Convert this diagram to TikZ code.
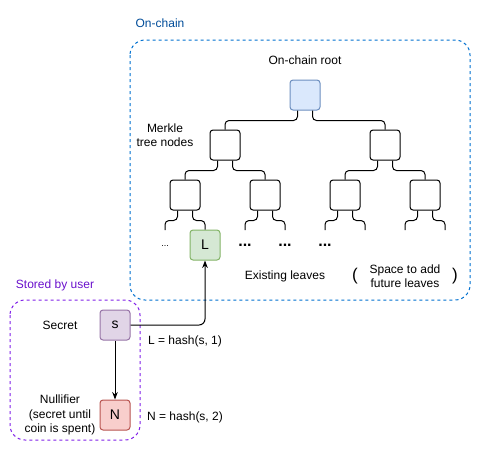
\documentclass[tikz,border=0pt]{standalone}
\usepackage{fontspec}
\setmainfont{Liberation Sans}
\usetikzlibrary{arrows.meta}

\definecolor{rootfill}{HTML}{DAE8FC}
\definecolor{rootline}{HTML}{6C8EBF}
\definecolor{leaffill}{HTML}{D5E8D4}
\definecolor{leafline}{HTML}{82B366}
\definecolor{secretfill}{HTML}{E1D5E7}
\definecolor{secretline}{HTML}{9673A6}
\definecolor{nullfill}{HTML}{F8CECC}
\definecolor{nullline}{HTML}{B85450}
\definecolor{chainline}{HTML}{0070D0}
\definecolor{chaintext}{HTML}{004C99}
\definecolor{userline}{HTML}{8020E8}
\definecolor{usertext}{HTML}{6A10CC}

\begin{document}
\begin{tikzpicture}[x=1pt, y=-1pt, >=Stealth,
    font=\fontsize{12}{14.5}\selectfont,
    box/.style={draw, line width=1pt, rounded corners=3pt, minimum size=30pt, inner sep=0pt, font=\fontsize{14}{16}\selectfont},
    treeedge/.style={line width=1pt, rounded corners=4pt},
    region/.style={line width=1pt, rounded corners=15pt, dash pattern=on 3pt off 3pt}]

        \useasboundingbox (0,0) rectangle (481,451);

        % Draw the two regions
        \draw[region, chainline] (130,40) rectangle (470,300);
        \node[text=chaintext] (chainlabel) at (160,23) {On-chain};
        \draw[region, userline] (10,300) rectangle (140,440);
        \node[text=usertext] (userlabel) at (55,285) {Stored by user};

        % Tree nodes
        \node[box, fill=rootfill, draw=rootline] (root) at (305,95) {};
        \node[box] (na) at (225,145) {};
        \node[box] (nb) at (385,145) {};
        \node[box] (naa) at (185,195) {};
        \node[box] (nab) at (265,195) {};
        \node[box] (nba) at (345,195) {};
        \node[box] (nbb) at (425,195) {};
        \node[box, fill=leaffill, draw=leafline] (leaf) at (205,245) {L};

        % Free ends of the leaf edges
        \coordinate (la) at (165,230);
        \coordinate (lc) at (245,230);
        \coordinate (ld) at (285,230);
        \coordinate (le) at (325,230);
        \coordinate (lf) at (365,230);
        \coordinate (lg) at (405,230);
        \coordinate (lh) at (445,230);

        % Tree edges
        \draw[treeedge] ([xshift=-7.5pt]root.south) -- ++(0,10) -| (na.north);
        \draw[treeedge] ([xshift=7.5pt]root.south) -- ++(0,10) -| (nb.north);
        \draw[treeedge] ([xshift=-7.5pt]na.south) -- ++(0,10) -| (naa.north);
        \draw[treeedge] ([xshift=7.5pt]na.south) -- ++(0,10) -| (nab.north);
        \draw[treeedge] ([xshift=-7.5pt]nb.south) -- ++(0,10) -| (nba.north);
        \draw[treeedge] ([xshift=7.5pt]nb.south) -- ++(0,10) -| (nbb.north);
        \draw[treeedge] ([xshift=-7.5pt]naa.south) -- ++(0,10) -| (la);
        \draw[treeedge] ([xshift=7.5pt]naa.south) -- ++(0,10) -| (leaf.north);
        \draw[treeedge] ([xshift=-7.5pt]nab.south) -- ++(0,10) -| (lc);
        \draw[treeedge] ([xshift=7.5pt]nab.south) -- ++(0,10) -| (ld);
        \draw[treeedge] ([xshift=-7.5pt]nba.south) -- ++(0,10) -| (le);
        \draw[treeedge] ([xshift=7.5pt]nba.south) -- ++(0,10) -| (lf);
        \draw[treeedge] ([xshift=-7.5pt]nbb.south) -- ++(0,10) -| (lg);
        \draw[treeedge] ([xshift=7.5pt]nbb.south) -- ++(0,10) -| (lh);

        % Dots between the leaves
        \node[font=\fontsize{9}{10}\selectfont] (dotsa) at (165,246) {...};
        \node[font=\fontsize{16}{18}\selectfont\bfseries] (dotsb) at (245,245) {...};
        \node[font=\fontsize{16}{18}\selectfont\bfseries] (dotsc) at (285,245) {...};
        \node[font=\fontsize{16}{18}\selectfont\bfseries] (dotsd) at (325,245) {...};

        % Tree labels
        \node (rootlabel) at (305,60) {On-chain root};
        \node[align=center] (treelabel) at (165,135) {Merkle\\tree nodes};
        \node (existlabel) at (285,276) {Existing leaves};
        \node[font=\fontsize{17}{18}\selectfont] (lparen) at (355,276) {(};
        \node[align=center] (futurelabel) at (405,276) {Space to add\\future leaves};
        \node[font=\fontsize{17}{18}\selectfont] (rparen) at (455,276) {)};

        % Secret and nullifier
        \node[box, fill=secretfill, draw=secretline] (s) at (115,325) {s};
        \node[box, fill=nullfill, draw=nullline] (n) at (115,415) {N};
        \node (secretlabel) at (60,325) {Secret};
        \node[align=center] (nulllabel) at (60,415) {Nullifier\\(secret until\\coin is spent)};
        \draw[->, line width=1pt, rounded corners=6pt] (s.east) -| (leaf.south);
        \draw[->, line width=1pt] (s.south) -- (n.north);
        \node (hashl) at (185,341) {L = hash(s, 1)};
        \node (hashn) at (185,417) {N = hash(s, 2)};

    \end{tikzpicture}
\end{document}
